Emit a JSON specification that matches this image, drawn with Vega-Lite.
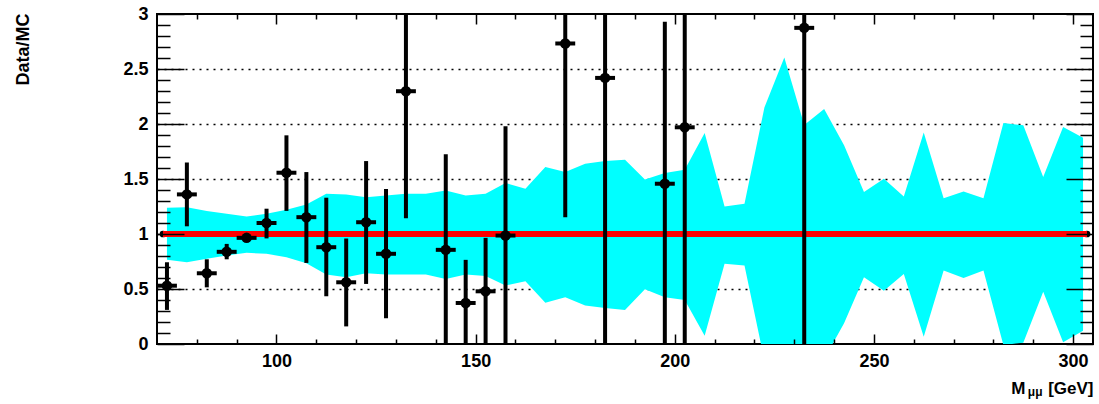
{
  "$schema": "https://vega.github.io/schema/vega-lite/v6.json",
  "width": 936,
  "height": 330,
  "autosize": {"type": "none"},
  "padding": {"left": 157, "top": 14, "right": 6, "bottom": 60},
  "background": "white",
  "config": {
    "view": {"stroke": "black", "strokeWidth": 2},
    "font": "Liberation Sans",
    "axis": {
      "domain": false,
      "grid": false,
      "tickColor": "black",
      "tickWidth": 1.5,
      "labelColor": "black",
      "labelFont": "Liberation Sans",
      "labelFontWeight": "bold",
      "labelFontSize": 18,
      "titleColor": "black",
      "titleFont": "Liberation Sans",
      "titleFontWeight": "bold",
      "titleFontSize": 17
    }
  },
  "datasets": {
    "band": [
      {"m": 72.5, "lo": 0.765, "hi": 1.238},
      {"m": 77.5, "lo": 0.743, "hi": 1.244},
      {"m": 82.5, "lo": 0.774, "hi": 1.208},
      {"m": 87.5, "lo": 0.804, "hi": 1.184},
      {"m": 92.5, "lo": 0.829, "hi": 1.159},
      {"m": 97.5, "lo": 0.82, "hi": 1.184},
      {"m": 102.5, "lo": 0.789, "hi": 1.22},
      {"m": 107.5, "lo": 0.734, "hi": 1.269},
      {"m": 112.5, "lo": 0.631, "hi": 1.366},
      {"m": 117.5, "lo": 0.607, "hi": 1.36},
      {"m": 122.5, "lo": 0.643, "hi": 1.335},
      {"m": 127.5, "lo": 0.631, "hi": 1.351},
      {"m": 132.5, "lo": 0.631, "hi": 1.366},
      {"m": 137.5, "lo": 0.631, "hi": 1.366},
      {"m": 142.5, "lo": 0.592, "hi": 1.396},
      {"m": 147.5, "lo": 0.631, "hi": 1.351},
      {"m": 152.5, "lo": 0.619, "hi": 1.366},
      {"m": 157.5, "lo": 0.531, "hi": 1.463},
      {"m": 162.5, "lo": 0.57, "hi": 1.411},
      {"m": 167.5, "lo": 0.376, "hi": 1.608},
      {"m": 172.5, "lo": 0.425, "hi": 1.563},
      {"m": 177.5, "lo": 0.349, "hi": 1.639},
      {"m": 182.5, "lo": 0.328, "hi": 1.663},
      {"m": 187.5, "lo": 0.31, "hi": 1.675},
      {"m": 192.5, "lo": 0.497, "hi": 1.496},
      {"m": 197.5, "lo": 0.425, "hi": 1.554},
      {"m": 202.5, "lo": 0.401, "hi": 1.585},
      {"m": 207.5, "lo": 0.076, "hi": 1.918},
      {"m": 212.5, "lo": 0.729, "hi": 1.25},
      {"m": 217.5, "lo": 0.713, "hi": 1.275},
      {"m": 222.5, "lo": -0.149, "hi": 2.149},
      {"m": 227.5, "lo": -0.605, "hi": 2.605},
      {"m": 232.5, "lo": 0.01, "hi": 1.99},
      {"m": 237.5, "lo": -0.137, "hi": 2.137},
      {"m": 242.5, "lo": 0.188, "hi": 1.806},
      {"m": 247.5, "lo": 0.607, "hi": 1.381},
      {"m": 252.5, "lo": 0.485, "hi": 1.503},
      {"m": 257.5, "lo": 0.637, "hi": 1.342},
      {"m": 262.5, "lo": 0.066, "hi": 1.922},
      {"m": 267.5, "lo": 0.668, "hi": 1.326},
      {"m": 272.5, "lo": 0.601, "hi": 1.387},
      {"m": 277.5, "lo": 0.668, "hi": 1.326},
      {"m": 282.5, "lo": -0.009, "hi": 2.009},
      {"m": 287.5, "lo": 0.012, "hi": 1.988},
      {"m": 292.5, "lo": 0.476, "hi": 1.518},
      {"m": 297.5, "lo": 0.015, "hi": 1.973},
      {"m": 302.5, "lo": 0.121, "hi": 1.876}
    ],
    "pts": [
      {"m": 72.5, "x0": 70, "x1": 75, "v": 0.53, "elo": 0.31, "ehi": 0.743},
      {"m": 77.5, "x0": 75, "x1": 80, "v": 1.36, "elo": 1.07, "ehi": 1.65},
      {"m": 82.5, "x0": 80, "x1": 85, "v": 0.643, "elo": 0.515, "ehi": 0.77},
      {"m": 87.5, "x0": 85, "x1": 90, "v": 0.838, "elo": 0.77, "ehi": 0.91},
      {"m": 92.5, "x0": 90, "x1": 95, "v": 0.965, "elo": 0.93, "ehi": 1.0},
      {"m": 97.5, "x0": 95, "x1": 100, "v": 1.1, "elo": 0.96, "ehi": 1.23},
      {"m": 102.5, "x0": 100, "x1": 105, "v": 1.557, "elo": 1.21, "ehi": 1.897},
      {"m": 107.5, "x0": 105, "x1": 110, "v": 1.153, "elo": 0.737, "ehi": 1.563},
      {"m": 112.5, "x0": 110, "x1": 115, "v": 0.88, "elo": 0.434, "ehi": 1.33},
      {"m": 117.5, "x0": 115, "x1": 120, "v": 0.561, "elo": 0.16, "ehi": 0.959},
      {"m": 122.5, "x0": 120, "x1": 125, "v": 1.107, "elo": 0.546, "ehi": 1.663},
      {"m": 127.5, "x0": 125, "x1": 130, "v": 0.82, "elo": 0.233, "ehi": 1.41},
      {"m": 132.5, "x0": 130, "x1": 135, "v": 2.298, "elo": 1.144, "ehi": 3.5},
      {"m": 142.5, "x0": 140, "x1": 145, "v": 0.856, "elo": -0.1, "ehi": 1.724},
      {"m": 147.5, "x0": 145, "x1": 150, "v": 0.373, "elo": -0.1, "ehi": 0.765},
      {"m": 152.5, "x0": 150, "x1": 155, "v": 0.479, "elo": -0.1, "ehi": 0.965},
      {"m": 157.5, "x0": 155, "x1": 160, "v": 0.986, "elo": -0.1, "ehi": 1.979},
      {"m": 172.5, "x0": 170, "x1": 175, "v": 2.732, "elo": 1.153, "ehi": 4.3},
      {"m": 182.5, "x0": 180, "x1": 185, "v": 2.419, "elo": -0.1, "ehi": 4.5},
      {"m": 197.5, "x0": 195, "x1": 200, "v": 1.457, "elo": -0.1, "ehi": 2.93},
      {"m": 202.5, "x0": 200, "x1": 205, "v": 1.97, "elo": -0.1, "ehi": 4.0},
      {"m": 232.5, "x0": 230, "x1": 235, "v": 2.874, "elo": -0.1, "ehi": 5.5}
    ],
    "line": [
      {"m": 71.5, "r": 1},
      {"m": 303.5, "r": 1}
    ]
  },
  "resolve": {
    "scale": {"x": "independent", "y": "independent"},
    "axis": {"x": "independent", "y": "independent"}
  },
  "layer": [
    {
      "data": {"name": "band"},
      "mark": {"type": "area", "color": "#00FFFF", "opacity": 1, "clip": true},
      "encoding": {
        "x": {
          "field": "m", "type": "quantitative",
          "scale": {"domain": [70, 305], "nice": false, "zero": false},
          "axis": {
            "orient": "bottom", "values": [100, 150, 200, 250, 300], "format": "d",
            "tickSize": -10, "labelPadding": 18, "zindex": 1,
            "title": "[GeV]", "titleX": 936, "titleY": 49, "titleAlign": "right",
            "titleBaseline": "alphabetic", "titleFontSize": 17
          }
        },
        "y": {
          "field": "lo", "type": "quantitative",
          "scale": {"domain": [0, 3], "nice": false, "zero": false},
          "axis": {
            "orient": "left", "values": [0.5, 1, 1.5, 2, 2.5],
            "grid": true, "gridColor": "black", "gridDash": [2, 5], "gridWidth": 1.5, "gridOpacity": 1,
            "ticks": false, "labels": false, "title": null, "zindex": 0
          }
        },
        "y2": {"field": "hi"}
      }
    },
    {
      "data": {"name": "line"},
      "mark": {"type": "point", "filled": true, "color": "black", "size": 45, "opacity": 1},
      "encoding": {
        "x": {"field": "m", "type": "quantitative", "scale": {"domain": [70, 305], "nice": false, "zero": false}, "axis": null},
        "y": {"field": "r", "type": "quantitative", "scale": {"domain": [0, 3], "nice": false, "zero": false}, "axis": null}
      }
    },
    {
      "data": {"name": "line"},
      "mark": {"type": "line", "color": "#FF0000", "strokeWidth": 6},
      "encoding": {
        "x": {
          "field": "m", "type": "quantitative",
          "scale": {"domain": [70, 305], "nice": false, "zero": false},
          "axis": {
            "orient": "bottom",
            "values": [80, 90, 110, 120, 130, 140, 160, 170, 180, 190, 210, 220, 230, 240, 260, 270, 280, 290],
            "tickSize": -5, "labels": false, "zindex": 1,
            "title": "μμ", "titleX": 885, "titleY": 51, "titleAlign": "right",
            "titleBaseline": "alphabetic", "titleFontSize": 12
          }
        },
        "y": {
          "field": "r", "type": "quantitative",
          "scale": {"domain": [0, 3], "nice": false, "zero": false},
          "axis": {
            "orient": "left", "values": [0, 0.5, 1, 1.5, 2, 2.5, 3], "format": "~g",
            "tickSize": -27, "labelPadding": 36, "zindex": 1,
            "title": "Data/MC", "titleX": -125, "titleY": -1, "titleAngle": -90,
            "titleAlign": "right", "titleBaseline": "bottom", "titleFontSize": 18
          }
        }
      }
    },
    {
      "data": {"name": "pts"},
      "mark": {"type": "rule", "color": "black", "strokeWidth": 4, "clip": true},
      "encoding": {
        "x": {
          "field": "m", "type": "quantitative",
          "scale": {"domain": [70, 305], "nice": false, "zero": false},
          "axis": {
            "orient": "top", "values": [100, 150, 200, 250, 300],
            "tickSize": -10, "labels": false, "zindex": 1,
            "title": "M", "titleX": 868, "titleY": 379, "titleAlign": "right",
            "titleBaseline": "alphabetic", "titleFontSize": 17
          }
        },
        "y": {
          "field": "elo", "type": "quantitative",
          "scale": {"domain": [0, 3], "nice": false, "zero": false},
          "axis": {
            "orient": "left",
            "values": [0.1, 0.2, 0.3, 0.4, 0.6, 0.7, 0.8, 0.9, 1.1, 1.2, 1.3, 1.4, 1.6, 1.7, 1.8, 1.9, 2.1, 2.2, 2.3, 2.4, 2.6, 2.7, 2.8, 2.9],
            "tickSize": -13, "labels": false, "title": null, "zindex": 1
          }
        },
        "y2": {"field": "ehi"}
      }
    },
    {
      "data": {"name": "pts"},
      "mark": {"type": "rule", "color": "black", "strokeWidth": 4, "clip": true},
      "encoding": {
        "x": {
          "field": "x0", "type": "quantitative",
          "scale": {"domain": [70, 305], "nice": false, "zero": false},
          "axis": {
            "orient": "top",
            "values": [80, 90, 110, 120, 130, 140, 160, 170, 180, 190, 210, 220, 230, 240, 260, 270, 280, 290],
            "tickSize": -5, "labels": false, "title": null, "zindex": 1
          }
        },
        "x2": {"field": "x1"},
        "y": {
          "field": "v", "type": "quantitative",
          "scale": {"domain": [0, 3], "nice": false, "zero": false},
          "axis": {
            "orient": "right", "values": [0, 0.5, 1, 1.5, 2, 2.5, 3],
            "tickSize": -27, "labels": false, "title": null, "zindex": 1
          }
        }
      }
    },
    {
      "data": {"name": "pts"},
      "mark": {"type": "point", "shape": "circle", "filled": true, "color": "black", "size": 110, "opacity": 1, "clip": true},
      "encoding": {
        "x": {"field": "m", "type": "quantitative", "scale": {"domain": [70, 305], "nice": false, "zero": false}, "axis": null},
        "y": {
          "field": "v", "type": "quantitative",
          "scale": {"domain": [0, 3], "nice": false, "zero": false},
          "axis": {
            "orient": "right",
            "values": [0.1, 0.2, 0.3, 0.4, 0.6, 0.7, 0.8, 0.9, 1.1, 1.2, 1.3, 1.4, 1.6, 1.7, 1.8, 1.9, 2.1, 2.2, 2.3, 2.4, 2.6, 2.7, 2.8, 2.9],
            "tickSize": -13, "labels": false, "title": null, "zindex": 1
          }
        }
      }
    }
  ]
}
